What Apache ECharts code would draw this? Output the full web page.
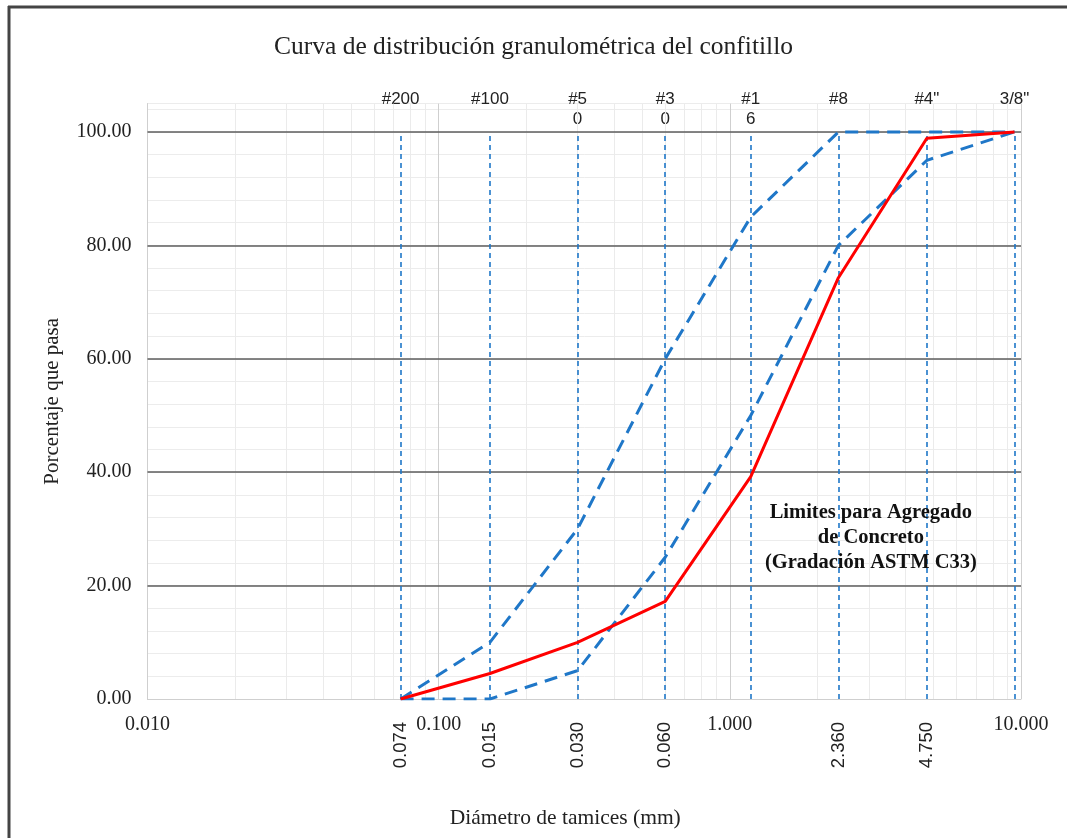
<!DOCTYPE html>
<html>
<head>
<meta charset="utf-8">
<script src="https://cdn.jsdelivr.net/npm/echarts@6/dist/echarts.min.js"></script>
<style>
html, body { margin: 0; padding: 0; background: #fff; }
#chart { width: 1067px; height: 838px; }
</style>
</head>
<body>
<div id="chart"></div>
<script>
// tamices (mm) y sus nombres
const sieveSizes = [0.074, 0.15, 0.3, 0.6, 1.18, 2.36, 4.75, 9.5];
const sieveNames = ['#200', '#100', '#5\n0', '#3\n0', '#1\n6', '#8', '#4"', '3/8"'];
// etiquetas verticales bajo el eje, tal como aparecen
const bottomValues = [0.074, 0.15, 0.3, 0.6, 2.36, 4.75];
const bottomLabels = ['0.074', '0.015', '0.030', '0.060', '2.360', '4.750'];

// % que pasa
const muestra = [0, 4.5, 10, 17.2, 39.2, 74.3, 98.9, 100];
const limiteSuperior = [0, 10, 30, 60, 85, 100, 100, 100];
const limiteInferior = [0, 0, 5, 25, 50, 80, 95, 100];

const yMajor = [20, 40, 60, 80, 100];
const notePos = [3.05, 28.4];

const BLUE = '#1f77c8';
const SERIF = 'Liberation Serif';
const SANS = 'Liberation Sans';

// lineas menores de la cuadricula logaritmica (2..9 en cada decada)
const minorX = [];
[0.01, 0.1, 1].forEach(d => {
    for (let k = 2; k <= 9; k++) minorX.push(+(d * k).toFixed(4));
});

const pairs = arr => sieveSizes.map((s, i) => [s, arr[i]]);

const chart = echarts.init(document.getElementById('chart'));

const option = {
    animation: false,
    title: {
        text: 'Curva de distribución granulométrica del confitillo',
        left: 'center',
        top: 29,
        textStyle: { fontFamily: SERIF, fontSize: 25.5, fontWeight: 'normal', color: '#222' }
    },
    graphic: [
        { type: 'line', shape: { x1: 8, y1: 7, x2: 1067, y2: 7 }, style: { stroke: '#444', lineWidth: 3 } },
        { type: 'line', shape: { x1: 9, y1: 6, x2: 9, y2: 838 }, style: { stroke: '#444', lineWidth: 3 } }
    ],
    grid: { left: 147.5, right: 46, top: 103.6, bottom: 139 },
    xAxis: [
        {
            type: 'log',
            logBase: 10,
            min: 0.01,
            max: 10,
            splitNumber: 3,
            name: 'Diámetro de tamices (mm)',
            nameLocation: 'middle',
            nameGap: 108,
            nameTextStyle: { fontFamily: SERIF, fontSize: 21.5, color: '#222', padding: [0, 38, 0, 0] },
            axisLine: { lineStyle: { color: '#cfcfcf' } },
            axisTick: { show: false },
            axisLabel: {
                margin: 16,
                fontFamily: SERIF, fontSize: 20, color: '#222',
                formatter: v => Number(v).toFixed(3)
            },
            splitLine: { lineStyle: { color: '#cfcfcf' } }
        },
        {
            type: 'log',
            logBase: 10,
            min: 0.01,
            max: 10,
            position: 'bottom',
            axisLine: { show: false },
            axisTick: { show: false },
            splitLine: { show: false },
            axisLabel: {
                customValues: bottomValues,
                rotate: 90,
                margin: 23,
                fontFamily: SANS, fontSize: 18.5, color: '#222',
                formatter: v => {
                    const i = bottomValues.findIndex(b => Math.abs(b - v) < 1e-6);
                    return i >= 0 ? bottomLabels[i] : '';
                }
            }
        },
        {
            type: 'log',
            logBase: 10,
            min: 0.01,
            max: 10,
            position: 'top',
            axisLine: { show: false },
            axisTick: { show: false },
            splitLine: { show: false },
            axisLabel: {
                customValues: sieveSizes,
                margin: 14,
                verticalAlign: 'top',
                lineHeight: 20,
                fontFamily: SANS, fontSize: 17, color: '#222',
                formatter: v => {
                    const i = sieveSizes.findIndex(b => Math.abs(b - v) < 1e-6);
                    return i >= 0 ? sieveNames[i] : '';
                }
            }
        }
    ],
    yAxis: {
        type: 'value',
        min: 0,
        max: 105,
        interval: 4,
        name: 'Porcentaje que pasa',
        nameLocation: 'middle',
        nameGap: 85,
        nameTextStyle: { fontFamily: SERIF, fontSize: 21, color: '#222' },
        axisLine: { show: true, lineStyle: { color: '#cfcfcf' } },
        axisTick: { show: false },
        axisLabel: {
            margin: 16,
            fontFamily: SERIF, fontSize: 20, color: '#222',
            formatter: v => (v % 20 === 0 && v <= 100) ? v.toFixed(2) : ''
        },
        splitLine: { lineStyle: { color: '#ececec' } }
    },
    series: [
        {
            // cuadricula: lineas menores verticales y lineas mayores horizontales
            type: 'line',
            data: [],
            z: 1,
            markLine: {
                silent: true,
                z: 1,
                symbol: 'none',
                label: { show: false },
                data: minorX.map(v => ({ xAxis: v, lineStyle: { color: '#ebebeb', width: 1, type: 'solid' } }))
                    .concat(yMajor.map(v => ({ yAxis: v, lineStyle: { color: '#5c5c5c', width: 1.5, type: 'solid' } })))
            }
        },
        {
            // tamices: lineas punteadas verticales
            type: 'line',
            data: [],
            z: 2,
            markLine: {
                silent: true,
                z: 2,
                symbol: 'none',
                label: { show: false },
                lineStyle: { color: BLUE, width: 1.6, type: [5, 4] },
                data: sieveSizes.map(s => [{ coord: [s, 0] }, { coord: [s, 100] }])
            }
        },
        {
            name: 'Límite superior',
            type: 'line',
            data: pairs(limiteSuperior),
            symbol: 'none',
            z: 3,
            lineStyle: { color: BLUE, width: 3, type: [13, 8] }
        },
        {
            name: 'Límite inferior',
            type: 'line',
            data: pairs(limiteInferior),
            symbol: 'none',
            z: 3,
            lineStyle: { color: BLUE, width: 3, type: [13, 8] }
        },
        {
            name: 'Muestra',
            type: 'line',
            data: pairs(muestra),
            symbol: 'none',
            z: 4,
            lineStyle: { color: '#ff0000', width: 3 },
            markPoint: {
                silent: true,
                z: 5,
                symbol: 'circle',
                symbolSize: 1,
                itemStyle: { color: 'rgba(0,0,0,0)' },
                label: {
                    show: true,
                    position: 'inside',
                    align: 'center',
                    verticalAlign: 'middle',
                    lineHeight: 25,
                    fontFamily: SERIF, fontSize: 20.5, fontWeight: 'bold', color: '#111',
                    formatter: 'Limites para Agregado\nde Concreto\n(Gradación ASTM C33)'
                },
                data: [{ coord: notePos }]
            }
        }
    ]
};

chart.setOption(option);
</script>
</body>
</html>
